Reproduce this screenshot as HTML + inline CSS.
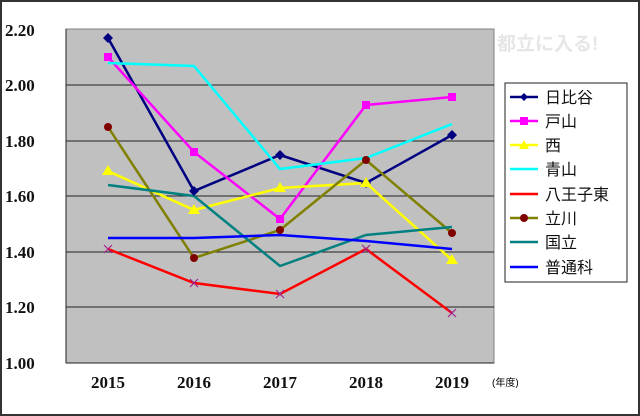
<!DOCTYPE html><html><head><meta charset="utf-8"><style>
html,body{margin:0;padding:0;background:#fff}
svg{display:block}
text{font-family:"Liberation Serif","Noto Serif CJK SC",serif}
.j{font-family:"Liberation Sans","Noto Sans CJK JP",sans-serif}
</style></head><body>
<svg width="640" height="416" viewBox="0 0 640 416" xmlns="http://www.w3.org/2000/svg">
<rect x="1" y="1" width="638" height="414" fill="#fff" stroke="#333" stroke-width="2"/>
<rect x="66" y="29" width="428" height="334" fill="#c0c0c0" stroke="#808080"/>
<g stroke="#222" stroke-width="1">
<line x1="66" y1="85" x2="494" y2="85"/><line x1="66" y1="141" x2="494" y2="141"/>
<line x1="66" y1="196" x2="494" y2="196"/><line x1="66" y1="252" x2="494" y2="252"/>
<line x1="66" y1="307" x2="494" y2="307"/><line x1="66" y1="363" x2="494" y2="363"/>
<line x1="66" y1="29" x2="66" y2="363"/>
</g>
<g font-size="17" font-weight="bold" fill="#111" text-anchor="start">
<text x="5" y="36">2.20</text><text x="5" y="91">2.00</text><text x="5" y="147">1.80</text>
<text x="5" y="202">1.60</text><text x="5" y="258">1.40</text><text x="5" y="313">1.20</text><text x="5" y="369">1.00</text>
</g>
<g font-size="17" font-weight="bold" fill="#111" text-anchor="middle">
<text x="108" y="388">2015</text><text x="194" y="388">2016</text><text x="280" y="388">2017</text><text x="366" y="388">2018</text><text x="452" y="388">2019</text>
</g>
<text x="492" y="386" font-size="10" class="j">(年度)</text>
<text x="497" y="50" font-size="19" fill="#e6e6e6" font-weight="bold" class="j">都立に入る!</text>
<g fill="none" stroke-width="2.5">
<polyline stroke="#000080" points="108,38 194,191 280,155 366,183 452,135"/>
<polyline stroke="#ff00ff" points="108,57 194,152 280,219 366,105 452,97"/>
<polyline stroke="#ffff00" points="108,171 194,210 280,188 366,183 452,260"/>
<polyline stroke="#00ffff" points="108,63 194,66 280,169 366,158 452,124"/>
<polyline stroke="#ff0000" points="108,249 194,283 280,294 366,249 452,313"/>
<polyline stroke="#808000" points="108,127 194,258 280,230 366,160 452,233"/>
<polyline stroke="#008080" points="108,185 194,196 280,266 366,235 452,227"/>
<polyline stroke="#0000ff" points="108,238 194,238 280,235 366,241 452,249"/>
</g>
<g fill="#000080"><path d="M108,33l5,5-5,5-5-5z"/><path d="M194,186l5,5-5,5-5-5z"/><path d="M280,150l5,5-5,5-5-5z"/><path d="M366,178l5,5-5,5-5-5z"/><path d="M452,130l5,5-5,5-5-5z"/></g>
<g fill="#ff00ff"><rect x="104" y="53" width="8" height="8"/><rect x="190" y="148" width="8" height="8"/><rect x="276" y="215" width="8" height="8"/><rect x="362" y="101" width="8" height="8"/><rect x="448" y="93" width="8" height="8"/></g>
<g fill="#ffff00"><path d="M108,165l6,10h-12z"/><path d="M194,204l6,10h-12z"/><path d="M280,182l6,10h-12z"/><path d="M366,177l6,10h-12z"/><path d="M452,254l6,10h-12z"/></g>
<g fill="#800000"><circle cx="108" cy="127" r="4"/><circle cx="194" cy="258" r="4"/><circle cx="280" cy="230" r="4"/><circle cx="366" cy="160" r="4"/><circle cx="452" cy="233" r="4"/></g>
<g stroke="#a0208f" stroke-width="1.2"><path d="M104,245l8,8M112,245l-8,8M190,279l8,8M198,279l-8,8M276,290l8,8M284,290l-8,8M362,245l8,8M370,245l-8,8M448,309l8,8M456,309l-8,8"/></g>
<rect x="505" y="83" width="122" height="199" fill="#fff" stroke="#222"/>
<g stroke-width="2.5">
<line x1="510" y1="97" x2="538" y2="97" stroke="#000080"/>
<line x1="510" y1="121" x2="538" y2="121" stroke="#ff00ff"/>
<line x1="510" y1="145" x2="538" y2="145" stroke="#ffff00"/>
<line x1="510" y1="169" x2="538" y2="169" stroke="#00ffff"/>
<line x1="510" y1="194" x2="538" y2="194" stroke="#ff0000"/>
<line x1="510" y1="218" x2="538" y2="218" stroke="#808000"/>
<line x1="510" y1="242" x2="538" y2="242" stroke="#008080"/>
<line x1="510" y1="267" x2="538" y2="267" stroke="#0000ff"/>
</g>
<path d="M524,93l4,4-4,4-4-4z" fill="#000080"/><rect x="520" y="117" width="8" height="8" fill="#ff00ff"/>
<path d="M524,140l5,9h-10z" fill="#ffff00"/><circle cx="524" cy="218" r="4" fill="#800000"/>
<g font-size="16" fill="#111" class="j">
<text x="545" y="103" class="j">日比谷</text><text x="545" y="127" class="j">戸山</text>
<text x="545" y="151" class="j">西</text><text x="545" y="175" class="j">青山</text>
<text x="545" y="200" class="j">八王子東</text><text x="545" y="224" class="j">立川</text>
<text x="545" y="248" class="j">国立</text><text x="545" y="273" class="j">普通科</text>
</g>
</svg>
</body></html>
